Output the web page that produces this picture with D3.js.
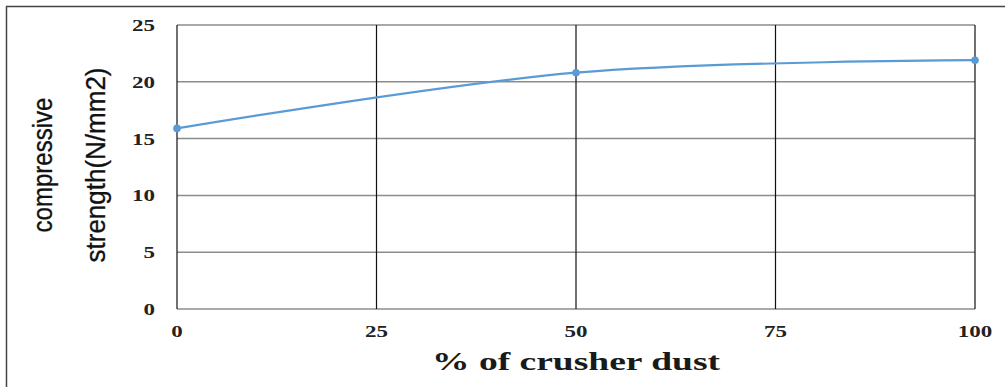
<!DOCTYPE html>
<html><head><meta charset="utf-8">
<script src="https://cdn.jsdelivr.net/npm/d3@7"></script>
<style>body{margin:0;background:#fff}svg{display:block}</style>
</head><body><svg id="c" width="1005" height="387"></svg>
<script>
const dustPct = [0, 50, 100];
const strength = [15.9, 20.8, 21.9];
const xTicks = [0, 25, 50, 75, 100];
const yTicks = [0, 5, 10, 15, 20, 25];
const xTitle = "% of crusher dust";
const yTitle = ["compressive", "strength(N/mm2)"];

const svg = d3.select("#c");
const x = d3.scaleLinear().domain([0, 100]).range([177, 975]);
const y = d3.scaleLinear().domain([0, 25]).range([309, 25]);

svg.append("rect").attr("x", 6.5).attr("y", 6.5).attr("width", 1010).attr("height", 400)
  .attr("fill", "none").attr("stroke", "#444").attr("stroke-width", 1.5);

// horizontal grid
svg.append("g").selectAll("line").data(yTicks).join("line")
  .attr("x1", x(0)).attr("x2", x(100)).attr("y1", d => y(d)).attr("y2", d => y(d))
  .attr("stroke", "#8c8c8c").attr("stroke-width", 1.5);
// vertical grid
svg.append("g").selectAll("line").data(xTicks).join("line")
  .attr("x1", d => x(d)).attr("x2", d => x(d)).attr("y1", y(25)).attr("y2", y(0))
  .attr("stroke", "#111").attr("stroke-width", 1.2);

const tickFont = "Liberation Serif, Times New Roman, serif";
// y tick labels
svg.append("g").selectAll("text").data(yTicks).join("text")
  .attr("x", 155).attr("y", d => y(d) + 6).attr("text-anchor", "end")
  .attr("font-family", tickFont).attr("font-weight", "bold").attr("font-size", 17.5)
  .attr("textLength", d => String(d).length * 11.5).attr("lengthAdjust", "spacingAndGlyphs")
  .attr("fill", "#222").text(d => d);
// x tick labels
svg.append("g").selectAll("text").data(xTicks).join("text")
  .attr("x", d => x(d)).attr("y", 337).attr("text-anchor", "middle")
  .attr("font-family", tickFont).attr("font-weight", "bold").attr("font-size", 17.5)
  .attr("textLength", d => String(d).length * 11.5).attr("lengthAdjust", "spacingAndGlyphs")
  .attr("fill", "#222").text(d => d);

// x title
svg.append("text").attr("x", 576).attr("y", 370).attr("text-anchor", "middle")
  .attr("font-family", tickFont).attr("font-weight", "bold").attr("font-size", 26)
  .attr("textLength", 288).attr("lengthAdjust", "spacingAndGlyphs")
  .attr("fill", "#1a1a1a").text(xTitle);

// y title
const yt = svg.append("text").attr("transform", "translate(0,165) rotate(-90)")
  .attr("text-anchor", "middle").attr("font-family", "Liberation Sans, Arial, sans-serif")
  .attr("font-size", 27).attr("fill", "#111").attr("stroke", "#111").attr("stroke-width", 0.3);
yt.append("tspan").attr("x", 0).attr("y", 52).attr("textLength", 135)
  .attr("lengthAdjust", "spacingAndGlyphs").text(yTitle[0]);
yt.append("tspan").attr("x", 0).attr("y", 105).attr("textLength", 195)
  .attr("lengthAdjust", "spacingAndGlyphs").text(yTitle[1]);

const data = dustPct.map((d, i) => [d, strength[i]]);
const line = d3.line().x(d => x(d[0])).y(d => y(d[1])).curve(d3.curveCatmullRom.alpha(0.5));
svg.append("path").datum(data).attr("d", line).attr("fill", "none")
  .attr("stroke", "#5b9bd5").attr("stroke-width", 2.2);
svg.append("g").selectAll("circle").data(data).join("circle")
  .attr("cx", d => x(d[0])).attr("cy", d => y(d[1])).attr("r", 3.8).attr("fill", "#5b9bd5");
</script></body></html>
